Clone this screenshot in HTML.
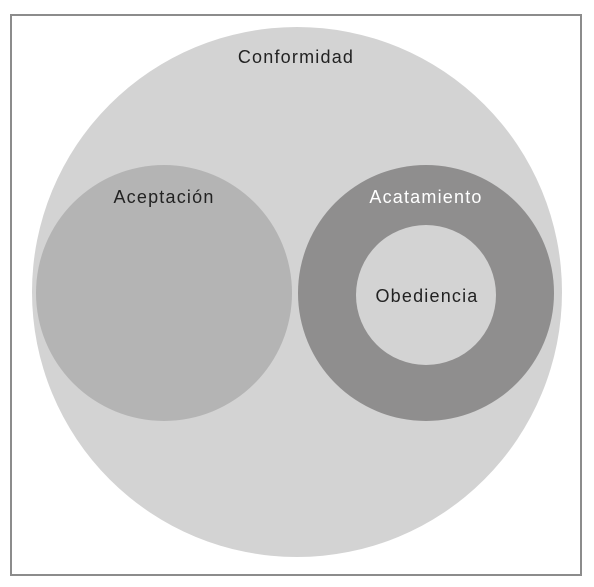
<!DOCTYPE html>
<html><head><meta charset="utf-8"><style>html,body{margin:0;padding:0;background:#fff}svg{display:block}</style></head>
<body>
<svg width="594" height="587" xmlns="http://www.w3.org/2000/svg" font-family="Liberation Sans, sans-serif">
<rect x="11" y="15" width="570" height="560" fill="#fff" stroke="#8c8c8c" stroke-width="2"/>
<circle cx="297" cy="292" r="265" fill="#d3d3d3"/>
<circle cx="164" cy="293" r="128" fill="#b4b4b4"/>
<circle cx="426" cy="293" r="128" fill="#8f8e8e"/>
<circle cx="426" cy="295" r="70" fill="#d3d3d3"/>
<g font-size="18" letter-spacing="1.2" text-anchor="middle">
<text x="296" y="63" fill="#222">Conformidad</text>
<text x="164" y="203" fill="#222">Aceptación</text>
<text x="426" y="203" fill="#fff">Acatamiento</text>
<text x="427" y="302" fill="#222" letter-spacing="1.2">Obediencia</text>
</g>
</svg>
</body></html>
